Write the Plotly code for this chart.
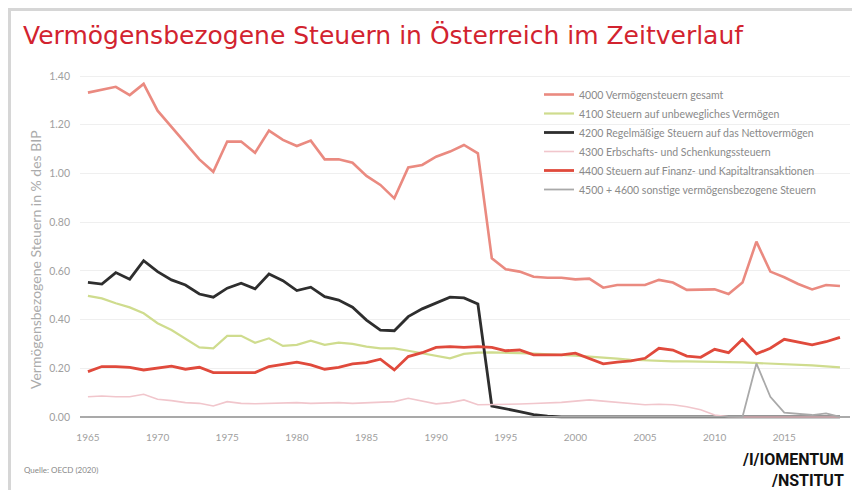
import plotly.graph_objects as go

years = list(range(1965, 2020))

total_4000 = [1.332, 1.345, 1.356, 1.322, 1.368, 1.258, 1.192, 1.124, 1.058, 1.007,
              1.131, 1.131, 1.085, 1.176, 1.138, 1.113, 1.135, 1.058, 1.058, 1.044,
              0.990, 0.953, 0.898, 1.025, 1.035, 1.069, 1.090, 1.117, 1.083, 0.652,
              0.607, 0.597, 0.576, 0.572, 0.572, 0.565, 0.568, 0.531, 0.542, 0.542,
              0.542, 0.563, 0.552, 0.522, 0.524, 0.524, 0.505, 0.552, 0.720, 0.597,
              0.574, 0.546, 0.524, 0.542, 0.538]

immobile_4100 = [0.497, 0.487, 0.467, 0.450, 0.426, 0.385, 0.357, 0.323, 0.286, 0.282,
                 0.333, 0.333, 0.305, 0.323, 0.292, 0.296, 0.313, 0.296, 0.305, 0.300,
                 0.289, 0.282, 0.282, 0.272, 0.262, 0.251, 0.241, 0.259, 0.264, 0.265,
                 0.265, 0.262, 0.260, 0.258, 0.255, 0.252, 0.248, 0.245, 0.240, 0.235,
                 0.232, 0.230, 0.228, 0.228, 0.228, 0.226, 0.225, 0.224, 0.222, 0.220,
                 0.218, 0.215, 0.212, 0.208, 0.204]

net_wealth_4200 = [0.553, 0.546, 0.593, 0.566, 0.642, 0.597, 0.563, 0.542, 0.505, 0.492,
                   0.529, 0.549, 0.526, 0.587, 0.560, 0.519, 0.533, 0.494, 0.480, 0.451,
                   0.398, 0.357, 0.354, 0.412, 0.444, 0.467, 0.492, 0.489, 0.464, 0.045,
                   0.035, 0.022, 0.010, 0.003, 0.0, 0.0, 0.0, 0.0, 0.0, 0.0,
                   0.0, 0.0, 0.0, 0.0, 0.0, 0.0, 0.0, 0.0, 0.0, 0.0,
                   0.0, 0.0, 0.0, 0.0, 0.0]

inheritance_4300 = [0.083, 0.086, 0.083, 0.083, 0.093, 0.073, 0.067, 0.059, 0.056, 0.045,
                    0.063, 0.056, 0.054, 0.056, 0.059, 0.059, 0.056, 0.059, 0.059, 0.056,
                    0.059, 0.063, 0.063, 0.077, 0.067, 0.054, 0.059, 0.070, 0.050, 0.050,
                    0.052, 0.053, 0.055, 0.057, 0.060, 0.065, 0.070, 0.065, 0.060, 0.055,
                    0.050, 0.052, 0.050, 0.042, 0.030, 0.008, 0.001, 0.0, 0.0, 0.0,
                    0.0, 0.0, 0.0, 0.0, 0.0]

transactions_4400 = [0.186, 0.207, 0.207, 0.204, 0.193, 0.200, 0.209, 0.196, 0.204, 0.182,
                     0.182, 0.182, 0.182, 0.207, 0.216, 0.225, 0.214, 0.196, 0.204, 0.218,
                     0.223, 0.237, 0.193, 0.248, 0.264, 0.286, 0.289, 0.286, 0.289, 0.286,
                     0.272, 0.275, 0.255, 0.255, 0.255, 0.262, 0.241, 0.218, 0.225, 0.230,
                     0.241, 0.282, 0.275, 0.250, 0.245, 0.278, 0.264, 0.319, 0.259, 0.282,
                     0.319, 0.309, 0.296, 0.309, 0.327]

other_4500_4600 = [0.0] * 47 + [0.0, 0.220, 0.083, 0.018, 0.012, 0.008, 0.015, 0.0]

series_names = [
    "4000 Vermögensteuern gesamt",
    "4100 Steuern auf unbewegliches Vermögen",
    "4200 Regelmäßige Steuern auf das Nettovermögen",
    "4300 Erbschafts- und Schenkungssteuern",
    "4400 Steuern auf Finanz- und Kapitaltransaktionen",
    "4500 + 4600 sonstige vermögensbezogene Steuern",
]
series_values = [total_4000, immobile_4100, net_wealth_4200,
                 inheritance_4300, transactions_4400, other_4500_4600]
series_colors = ["#ea8a80", "#cfdc8e", "#2e2e2e", "#f1c6cc", "#e04a3c", "#a9a9a9"]
series_widths = [2.6, 2.2, 2.8, 1.6, 2.8, 1.8]

x_ticks = [1965, 1970, 1975, 1980, 1985, 1990, 1995, 2000, 2005, 2010, 2015]
y_ticks = [0.0, 0.2, 0.4, 0.6, 0.8, 1.0, 1.2, 1.4]

# the page body has an 8px margin, so the figure is sized to fit the window
OFF = 8
W, H = 860 - OFF, 490 - OFF
L, R, T, B = 72, 10, 62, 65
PW, PH = W - L - R, H - T - B

def px_x(x):
    # screen x -> paper x
    return (x - OFF - L) / PW

def px_y(y):
    # screen y -> paper y
    return (H - B - (y - OFF)) / PH

fig = go.Figure()
for name, vals, col, w in zip(series_names, series_values, series_colors, series_widths):
    fig.add_trace(go.Scatter(x=years, y=vals, name=name, mode="lines",
                             line=dict(color=col, width=w)))

fig.update_layout(
    width=W, height=H,
    margin=dict(l=L, r=R, t=T, b=B),
    paper_bgcolor="white", plot_bgcolor="white",
    font=dict(family="Lato, Open Sans, sans-serif", color="#999999", size=10),
    showlegend=True,
    legend=dict(x=px_x(539), y=px_y(80), xanchor="left", yanchor="top",
                font=dict(size=10.5, color="#8a8a8a"), itemwidth=30,
                bgcolor="rgba(0,0,0,0)", tracegroupgap=0),
    title=dict(text="Vermögensbezogene Steuern in Österreich im Zeitverlauf",
               x=(23 - OFF) / W, xref="container", xanchor="left",
               y=1 - (35 - OFF) / H, yref="container", yanchor="middle",
               font=dict(family="DejaVu Sans, Liberation Sans, sans-serif", size=25, color="#d2232f")),
)

fig.update_xaxes(range=[1964.43, 2019.72], tickvals=x_ticks, ticktext=[str(v) for v in x_ticks],
                 showgrid=False, zeroline=False, showline=False, ticks="",
                 ticklabelstandoff=5,
                 tickfont=dict(size=10, color="#a0a0a0"))
fig.update_yaxes(range=[-0.033, 1.425], tickvals=y_ticks, ticktext=[f"{v:.2f}" for v in y_ticks],
                 showgrid=True, gridcolor="#efefef", gridwidth=1,
                 zeroline=True, zerolinecolor="#aaaaaa", zerolinewidth=2,
                 showline=False, ticks="", ticklabelstandoff=9,
                 tickfont=dict(size=10.5, color="#a0a0a0"))

fig.add_annotation(text="Vermögensbezogene Steuern in % des BIP", xref="paper", yref="paper",
                   x=px_x(36), y=px_y(260), textangle=-90, showarrow=False,
                   font=dict(size=14, color="#ababab"), xanchor="center", yanchor="middle")

fig.add_annotation(text="Quelle: OECD (2020)", xref="paper", yref="paper",
                   x=px_x(22), y=px_y(470), showarrow=False, xanchor="left", yanchor="middle",
                   font=dict(size=8, color="#888888"))

fig.add_annotation(text="<b>/I/IOMENTUM<br>/NSTITUT</b>", xref="paper", yref="paper",
                   x=px_x(846), y=px_y(470), showarrow=False, xanchor="right", yanchor="middle",
                   align="right",
                   font=dict(family="Liberation Sans Narrow, Roboto, sans-serif", size=16, color="#111111"))

fig.add_shape(type="rect", xref="paper", yref="paper",
              x0=px_x(9.5), x1=px_x(858.5), y0=px_y(500), y1=px_y(9.5),
              line=dict(color="#d6d6d6", width=3), fillcolor="rgba(0,0,0,0)", layer="below")

fig.write_html("out.html")
